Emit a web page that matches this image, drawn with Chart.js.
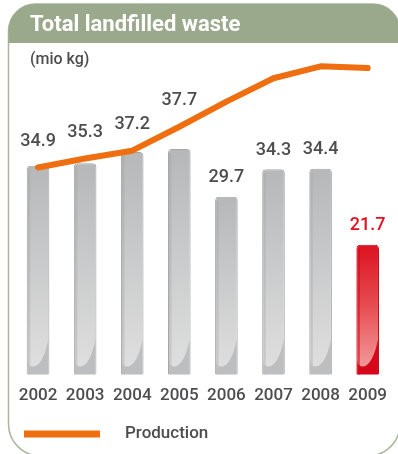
<!DOCTYPE html>
<html>
<head>
<meta charset="utf-8">
<title>Total landfilled waste</title>
<script src="https://cdn.jsdelivr.net/npm/chart.js@4.4.1/dist/chart.umd.min.js"></script>
<style>
  html, body { margin: 0; padding: 0; background: #fff; }
  #wrap { position: relative; width: 398px; height: 454px; }
</style>
</head>
<body>
<div id="wrap"><canvas id="wasteChart" width="398" height="454"></canvas></div>
<script>
// ===== Data =====
const years = ["2002", "2003", "2004", "2005", "2006", "2007", "2008", "2009"];
const landfilled = [34.9, 35.3, 37.2, 37.7, 29.7, 34.3, 34.4, 21.7];
const production = [34.6, 36.1, 37.4, 41.4, 45.6, 49.5, 51.5, 51.2];

const titleText = "Total landfilled waste";
const unitText = "(mio kg)";

const GRAY_TEXT = "#4d4d4f";
const RED = "#e3101e";
const ORANGE = "#ee6e10";
const HEAD = "#9aa88b";
const lastIdx = landfilled.length - 1;

// ===== Panel: rounded frame, green header, title and unit =====
const panel = {
  id: "panel",
  beforeDraw(chart) {
    const ctx = chart.ctx;
    const L = 8.5, T = 4, R = 400, B = 456, rt = 27, rb = 32;
    ctx.save();
    ctx.beginPath();
    ctx.moveTo(L + rt, T);
    ctx.lineTo(R - rt, T);
    ctx.arcTo(R, T, R, T + rt, rt);
    ctx.lineTo(R, B - rb);
    ctx.arcTo(R, B, R - rb, B, rb);
    ctx.lineTo(L + rb, B);
    ctx.arcTo(L, B, L, B - rb, rb);
    ctx.lineTo(L, T + rt);
    ctx.arcTo(L, T, L + rt, T, rt);
    ctx.closePath();
    ctx.fillStyle = "#fff";
    ctx.fill();
    ctx.strokeStyle = "#aab79c";
    ctx.lineWidth = 1.5;
    ctx.stroke();
    ctx.clip();
    ctx.fillStyle = HEAD;
    ctx.fillRect(0, 0, chart.width, 43);
    ctx.restore();

    // title, squeezed a little like a condensed face
    ctx.save();
    ctx.font = "bold 22px Roboto";
    ctx.fillStyle = "#fff";
    ctx.textBaseline = "alphabetic";
    const w = ctx.measureText(titleText).width;
    const sx = Math.min(1, 215 / w);
    ctx.translate(30, 31);
    ctx.scale(sx, 1);
    ctx.fillText(titleText, 0, 0);
    ctx.restore();

    ctx.save();
    ctx.font = "500 16px Roboto";
    ctx.fillStyle = GRAY_TEXT;
    ctx.textBaseline = "middle";
    ctx.fillText(unitText, 30, 60);
    ctx.restore();
  }
};

// ===== Glossy look: darker left strip and a curved shadow at the foot =====
const barGloss = {
  id: "barGloss",
  afterDatasetDraw(chart, args) {
    if (args.index !== 0) return;
    const ctx = chart.ctx;
    chart.getDatasetMeta(0).data.forEach((bar, i) => {
      const p = bar.getProps(["x", "y", "base", "width"], true);
      const L = p.x - p.width / 2 + 1, R = p.x + p.width / 2 - 1, B = p.base, T = p.y + 4;
      ctx.save();
      ctx.fillStyle = i === lastIdx ? "rgba(205,8,26,0.55)" : "rgba(160,161,163,0.35)";
      ctx.fillRect(L, T, 2.5, B - T);
      ctx.fillStyle = i === lastIdx ? "#d8081c" : "#bdbec0";
      ctx.beginPath();
      ctx.moveTo(L, B - 14);
      ctx.quadraticCurveTo(L, B - 8, L + 6, B - 8);
      ctx.quadraticCurveTo(R - 5, B - 10, R, B - 35);
      ctx.lineTo(R, B);
      ctx.lineTo(L, B);
      ctx.closePath();
      ctx.fill();
      ctx.restore();
    });
  }
};

// ===== Value labels above bars (lifted over the line where they meet) =====
const valueLabels = {
  id: "valueLabels",
  afterDatasetsDraw(chart) {
    const ctx = chart.ctx;
    const bars = chart.getDatasetMeta(0).data;
    const pts = chart.getDatasetMeta(1).data;
    ctx.save();
    ctx.font = "500 18px Roboto";
    ctx.textAlign = "center";
    ctx.textBaseline = "middle";
    bars.forEach((bar, i) => {
      let y = bar.y - 19;
      if (bar.y - pts[i].y < 40) y = Math.min(y, pts[i].y - 26);
      ctx.fillStyle = i === lastIdx ? RED : GRAY_TEXT;
      ctx.fillText(landfilled[i].toFixed(1), bar.x, y);
    });
    ctx.restore();
  }
};

// ===== Legend at the bottom =====
const lineLegend = {
  id: "lineLegend",
  afterDraw(chart) {
    const ctx = chart.ctx;
    const ds = chart.data.datasets[1];
    ctx.save();
    ctx.strokeStyle = ds.borderColor;
    ctx.lineWidth = 7;
    ctx.beginPath();
    ctx.moveTo(24, 434);
    ctx.lineTo(100, 434);
    ctx.stroke();
    ctx.font = "500 17px Roboto";
    ctx.fillStyle = GRAY_TEXT;
    ctx.textBaseline = "middle";
    ctx.fillText(ds.label, 125, 434);
    ctx.restore();
  }
};

// vertical gradient per bar, from its top down to the axis
function barFill(context) {
  const chart = context.chart;
  const i = context.dataIndex;
  if (!chart.chartArea || i === undefined) return "#c4c5c7";
  const y = chart.scales.y;
  const top = y.getPixelForValue(landfilled[i]);
  const bottom = y.getPixelForValue(0);
  const g = chart.ctx.createLinearGradient(0, top, 0, bottom);
  if (i === lastIdx) {
    g.addColorStop(0, "#dc1220");
    g.addColorStop(0.45, "#e64a4f");
    g.addColorStop(1, "#f3a2a2");
  } else {
    g.addColorStop(0, "#b6b7b9");
    g.addColorStop(1, "#e0e0e0");
  }
  return g;
}

const el = document.getElementById("wasteChart");
new Chart(el, {
  data: {
    labels: years,
    datasets: [
      {
        type: "bar",
        label: "Landfilled",
        data: landfilled,
        order: 1,
        backgroundColor: barFill,
        borderColor: landfilled.map((v, i) => i === lastIdx ? "#c40c18" : "#a5a6a8"),
        borderWidth: 1,
        borderSkipped: "bottom",
        borderRadius: { topLeft: 4, topRight: 4 },
        barPercentage: 0.48,
        categoryPercentage: 1
      },
      {
        type: "line",
        label: "Production",
        data: production,
        order: 0,
        borderColor: ORANGE,
        backgroundColor: ORANGE,
        borderWidth: 6,
        borderCapStyle: "round",
        borderJoinStyle: "round",
        pointRadius: 0,
        tension: 0
      }
    ]
  },
  options: {
    responsive: false,
    animation: false,
    layout: { padding: { left: 14.5, right: 0, top: 15.4, bottom: 37 } },
    plugins: {
      legend: { display: false },
      tooltip: { enabled: false }
    },
    scales: {
      x: {
        grid: { display: false, drawTicks: false },
        border: { display: false },
        ticks: { color: GRAY_TEXT, font: { family: "Roboto", size: 17, weight: "500" }, padding: 11, maxRotation: 0 }
      },
      y: { display: false, min: 0, max: 60 }
    }
  },
  plugins: [panel, barGloss, valueLabels, lineLegend]
});
</script>
</body>
</html>
